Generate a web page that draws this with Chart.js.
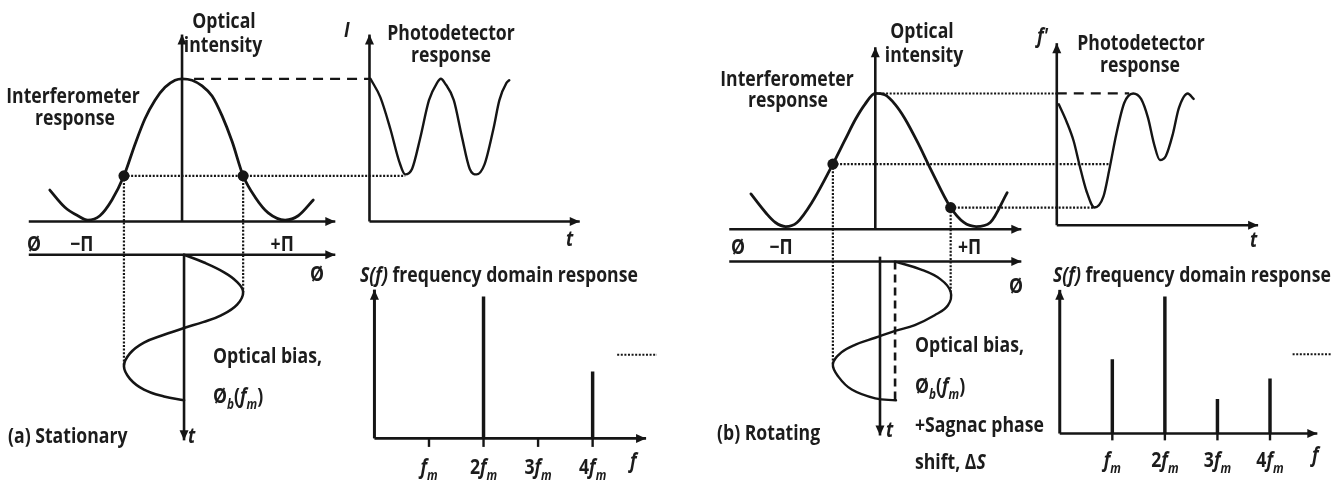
<!DOCTYPE html>
<html>
<head>
<meta charset="utf-8">
<title>Fibre-optic gyroscope: stationary vs rotating response</title>
<script src="https://cdn.jsdelivr.net/npm/chart.js@4.4.1/dist/chart.umd.min.js"></script>
<style>
  html, body { margin: 0; padding: 0; background: #fff; }
  #wrap { width: 1337px; height: 483px; }
</style>
</head>
<body>
<div id="wrap"><canvas id="fog" width="1337" height="483"></canvas></div>
<script>
// ---- data: (a) stationary ----
// interferometer response: phase (units of pi) vs normalised optical intensity
const interfPhaseA = [-1.32, -1.17, -1.04, -0.94, -0.82, -0.70, -0.58, -0.47, -0.37, -0.27, -0.17, -0.07, 0, 0.10, 0.20, 0.30, 0.40, 0.50, 0.61, 0.73, 0.86, 1.03, 1.16, 1.31];
const interfIntensityA = [0.22, 0.10, 0.04, 0.01, 0.04, 0.15, 0.32, 0.54, 0.72, 0.85, 0.94, 0.99, 1.00, 0.99, 0.95, 0.88, 0.74, 0.56, 0.32, 0.17, 0.06, 0.01, 0.04, 0.15];
// operating points set by the bias modulation
const biasPhaseA = [-0.58, 0.61];
const biasLevelA = [0.32, 0.32];
// photodetector output over time
const photoTimeA = [0.1, 1.1, 2.1, 3.0, 3.6, 4.3, 5.1, 6.0, 6.8, 7.2, 7.6, 8.5, 9.3, 10.1, 10.8, 11.6, 12.5, 13.1, 13.8, 14.1];
const photoIntensityA = [1.00, 0.87, 0.65, 0.42, 0.33, 0.37, 0.58, 0.85, 0.97, 1.00, 0.97, 0.85, 0.60, 0.37, 0.33, 0.40, 0.65, 0.85, 0.97, 0.99];
// phase modulation (optical bias) over time
const modPhaseA = [0.02, 0.22, 0.42, 0.54, 0.61, 0.55, 0.39, 0.21, 0.02, -0.18, -0.38, -0.52, -0.58, -0.52, -0.38, -0.18, 0.02];
const modTimeA = [0, 0.8, 1.8, 2.7, 3.8, 5.1, 6.2, 6.9, 7.5, 8.2, 9.0, 10.1, 11.4, 12.7, 13.8, 14.5, 14.9];
// spectrum
const harmonics = [1, 2, 3, 4];
const specAmpA = [0, 1.00, 0, 0.47];

// ---- data: (b) rotating ----
const interfPhaseB = [-1.32, -1.16, -1.06, -0.95, -0.83, -0.67, -0.45, -0.32, -0.21, -0.11, 0, 0.10, 0.21, 0.31, 0.45, 0.59, 0.80, 0.94, 1.07, 1.22, 1.40];
const interfIntensityB = [0.26, 0.12, 0.05, 0.02, 0.05, 0.20, 0.48, 0.66, 0.81, 0.92, 1.00, 0.99, 0.92, 0.82, 0.64, 0.44, 0.16, 0.05, 0.02, 0.05, 0.27];
const biasPhaseB = [-0.45, 0.80];
const biasLevelB = [0.48, 0.16];
const photoTimeB = [0.2, 1.0, 1.7, 2.3, 3.0, 3.8, 4.7, 5.3, 6.0, 6.8, 7.7, 8.5, 9.2, 9.8, 10.4, 11.0, 11.7, 12.3, 13.2, 13.8];
const photoIntensityB = [0.92, 0.79, 0.65, 0.47, 0.28, 0.16, 0.24, 0.44, 0.70, 0.93, 1.00, 0.96, 0.82, 0.63, 0.51, 0.54, 0.70, 0.89, 1.00, 0.96];
const modPhaseB = [0.21, 0.48, 0.69, 0.80, 0.77, 0.63, 0.42, 0.21, 0.0, -0.21, -0.36, -0.45, -0.39, -0.25, 0.0, 0.22];
const modTimeB = [0, 0.8, 1.8, 3.1, 4.5, 5.5, 6.5, 7.1, 7.8, 8.5, 9.3, 10.5, 11.8, 13.1, 14.0, 14.2];
const sagnacShiftB = 0.21;
const specAmpB = [0.54, 1.00, 0.25, 0.40];

// ---- drawing setup ----
const W = 1337, H = 483;
const INK = '#151515';
const TEXT = '#1c1c1c';
const FONT_FAMILY = '"Open Sans", "Noto Sans", sans-serif';
const CONDENSE = 0.84;

// hidden linear scale where value v0 sits at pixel p0 and v1 at pixel p1
const hidden = { display: false, bounds: 'data', offset: false, grid: { display: false, offset: false }, ticks: { display: false } };
function xFit(v0, p0, v1, p1) {
  const k = (v1 - v0) / (p1 - p0);
  return { ...hidden, type: 'linear', axis: 'x', position: 'bottom',
           min: v0 - p0 * k, max: v0 + (W - p0) * k };
}
function yFit(v0, p0, v1, p1) {
  const k = (v1 - v0) / (p1 - p0);
  const vTop = v0 - p0 * k, vBottom = v0 + (H - p0) * k;
  const base = { ...hidden, type: 'linear', axis: 'y', position: 'left' };
  return vBottom < vTop ? { ...base, min: vBottom, max: vTop }
                        : { ...base, min: vTop, max: vBottom, reverse: true };
}

function curve(xs, ys, xArr, yArr, width, monotone) {
  return {
    type: 'line', xAxisID: xs, yAxisID: ys,
    data: xArr.map((x, i) => ({ x, y: yArr[i] })),
    borderColor: INK, borderWidth: width, pointRadius: 0,
    tension: 0.4, cubicInterpolationMode: monotone ? 'monotone' : 'default',
    fill: false, borderCapStyle: 'round', borderJoinStyle: 'round'
  };
}
function dots(xs, ys, xArr, yArr) {
  return {
    type: 'scatter', xAxisID: xs, yAxisID: ys,
    data: xArr.map((x, i) => ({ x, y: yArr[i] })),
    pointRadius: 5.5, pointBackgroundColor: INK, pointBorderWidth: 0, showLine: false
  };
}
function spectrum(xs, ys, amps) {
  return {
    type: 'bar', xAxisID: xs, yAxisID: ys, grouped: false,
    data: harmonics.map((h, i) => ({ x: h, y: amps[i] })),
    backgroundColor: INK, borderWidth: 0, barThickness: 2.8
  };
}

// axes, guide lines and arrows, each end given as [xScale, x, yScale, y]
const DOT = [2, 1.6];
const DASH = [10, 7];
const guides = [
  // (a) interferometer axes
  { from: ['aPh', -1.53, 'aI', 0], to: ['aPh', 1.53, 'aI', 0], width: 2.6, arrow: true },
  { from: ['aPh', 0, 'aI', 0], to: ['aPh', 0, 'aI', 1.31], width: 2.6, arrow: true },
  { from: ['aPh', -1.53, 'aTm', 0], to: ['aPh', 1.53, 'aTm', 0], width: 2.6, arrow: true },
  { from: ['aPh', 0.02, 'aTm', 0], to: ['aPh', 0.02, 'aTm', 19], width: 2.6, arrow: true },
  // (a) photodetector axes
  { from: ['aT', 0, 'aI', 0], to: ['aT', 0, 'aI', 1.31], width: 2.6, arrow: true },
  { from: ['aT', 0, 'aI', 0], to: ['aT', 21.2, 'aI', 0], width: 2.6, arrow: true },
  // (a) spectrum axes
  { from: ['aF', 0, 'aS', 0], to: ['aF', 0, 'aS', 1.05], width: 3, arrow: true },
  { from: ['aF', 0, 'aS', 0], to: ['aF', 4.98, 'aS', 0], width: 2.6, arrow: true },
  { from: ['aF', 4.45, 'aS', 0.59], to: ['aF', 5.18, 'aS', 0.59], width: 2, dash: DOT },
  // (a) projections
  { from: ['aPh', 0.12, 'aI', 1], to: ['aT', 0, 'aI', 1], width: 2.2, dash: DASH },
  { from: ['aPh', biasPhaseA[0], 'aI', biasLevelA[0]], to: ['aT', photoTimeA[4], 'aI', biasLevelA[0]], width: 2.2, dash: DOT },
  { from: ['aPh', biasPhaseA[0], 'aI', biasLevelA[0]], to: ['aPh', biasPhaseA[0], 'aTm', modTimeA[12]], width: 2.2, dash: DOT },
  { from: ['aPh', biasPhaseA[1], 'aI', biasLevelA[1]], to: ['aPh', biasPhaseA[1], 'aTm', modTimeA[4]], width: 2.2, dash: DOT },

  // (b) interferometer axes
  { from: ['bPh', -1.55, 'bI', 0], to: ['bPh', 1.55, 'bI', 0], width: 2.6, arrow: true },
  { from: ['bPh', 0, 'bI', 0], to: ['bPh', 0, 'bI', 1.34], width: 2.6, arrow: true },
  { from: ['bPh', -1.55, 'bTm', 0], to: ['bPh', 1.55, 'bTm', 0], width: 2.6, arrow: true },
  { from: ['bPh', 0.05, 'bTm', -0.5], to: ['bPh', 0.05, 'bTm', 17.8], width: 2.6, arrow: true },
  { from: ['bPh', sagnacShiftB, 'bTm', 0], to: ['bPh', sagnacShiftB, 'bTm', modTimeB[15]], width: 2.6, dash: [8, 5] },
  // (b) photodetector axes
  { from: ['bT', 0, 'bI', 0.03], to: ['bT', 0, 'bI', 1.37], width: 2.6, arrow: true },
  { from: ['bT', 0, 'bI', 0.03], to: ['bT', 20.3, 'bI', 0.03], width: 2.6, arrow: true },
  // (b) spectrum axes
  { from: ['bF', 0, 'bS', 0], to: ['bF', 0, 'bS', 1.05], width: 3, arrow: true },
  { from: ['bF', 0, 'bS', 0], to: ['bF', 4.9, 'bS', 0], width: 2.6, arrow: true },
  { from: ['bF', 4.43, 'bS', 0.58], to: ['bF', 5.17, 'bS', 0.58], width: 2, dash: DOT },
  // (b) projections
  { from: ['bPh', 0, 'bI', 1], to: ['bT', 0, 'bI', 1], width: 2, dash: DOT },
  { from: ['bT', 0, 'bI', 1], to: ['bT', 7.3, 'bI', 1], width: 2.2, dash: DASH },
  { from: ['bPh', biasPhaseB[0], 'bI', biasLevelB[0]], to: ['bT', 5.3, 'bI', biasLevelB[0]], width: 2.2, dash: DOT },
  { from: ['bPh', biasPhaseB[1], 'bI', biasLevelB[1]], to: ['bT', photoTimeB[5], 'bI', biasLevelB[1]], width: 2.2, dash: DOT },
  { from: ['bPh', biasPhaseB[0], 'bI', biasLevelB[0]], to: ['bPh', biasPhaseB[0], 'bTm', modTimeB[11]], width: 2.2, dash: DOT },
  { from: ['bPh', biasPhaseB[1], 'bI', biasLevelB[1]], to: ['bPh', biasPhaseB[1], 'bTm', modTimeB[3]], width: 2.2, dash: DOT }
];

// harmonic tick marks below the frequency axes
harmonics.forEach(h => {
  guides.push({ from: ['aF', h, 'aS', 0], to: ['aF', h, 'aS', -0.06], width: 2.4 });
  guides.push({ from: ['bF', h, 'bS', 0], to: ['bF', h, 'bS', -0.05], width: 2.4 });
});

// text, as [string, style] runs: 'i' italic, 's' subscript
const harmonicLabel = h => h === 1 ? [['f', 'i'], ['m', 'is']] : [[String(h), ''], ['f', 'i'], ['m', 'is']];
const labels = [
  // (a)
  { parts: [['Optical', '']], x: 224, y: 28, align: 'center' },
  { parts: [['intensity', '']], x: 223, y: 52, align: 'center' },
  { parts: [['Interferometer', '']], x: 73, y: 103, align: 'center' },
  { parts: [['response', '']], x: 75, y: 125, align: 'center' },
  { parts: [['Photodetector', '']], x: 451, y: 40, align: 'center' },
  { parts: [['response', '']], x: 451, y: 62, align: 'center' },
  { parts: [['I', 'i']], x: 344, y: 37 },
  { parts: [['Ø', '']], x: 27, y: 251 },
  { parts: [['−Π', '']], at: ['aPh', -1], y: 251, align: 'center' },
  { parts: [['+Π', '']], at: ['aPh', 1], y: 251, align: 'center' },
  { parts: [['Ø', '']], x: 310, y: 281 },
  { parts: [['t', 'i']], x: 188, y: 443 },
  { parts: [['t', 'i']], x: 566, y: 246 },
  { parts: [['Optical bias,', '']], x: 213, y: 363 },
  { parts: [['Ø', ''], ['b', 'is'], ['(', ''], ['f', 'i'], ['m', 'is'], [')', '']], x: 213, y: 403 },
  { parts: [['(a) Stationary', '']], x: 8, y: 443 },
  { parts: [['S(f)', 'i'], [' frequency domain response', '']], x: 360, y: 282 },
  { parts: [['f', 'i']], x: 630, y: 468 },
  ...harmonics.map(h => ({ parts: harmonicLabel(h), at: ['aF', h], y: 474, align: 'center' })),
  // (b)
  { parts: [['Optical', '']], x: 922, y: 38, align: 'center' },
  { parts: [['intensity', '']], x: 924, y: 62, align: 'center' },
  { parts: [['Interferometer', '']], x: 787, y: 86, align: 'center' },
  { parts: [['response', '']], x: 788, y: 107, align: 'center' },
  { parts: [['Photodetector', '']], x: 1141, y: 50, align: 'center' },
  { parts: [['response', '']], x: 1140, y: 72, align: 'center' },
  { parts: [["f'", 'i']], x: 1037, y: 43 },
  { parts: [['Ø', '']], x: 731, y: 254 },
  { parts: [['−Π', '']], at: ['bPh', -1], y: 254, align: 'center' },
  { parts: [['+Π', '']], at: ['bPh', 1], y: 254, align: 'center' },
  { parts: [['Ø', '']], x: 1009, y: 293 },
  { parts: [['t', 'i']], x: 886, y: 437 },
  { parts: [['t', 'i']], x: 1250, y: 247 },
  { parts: [['Optical bias,', '']], x: 915, y: 352 },
  { parts: [['Ø', ''], ['b', 'is'], ['(', ''], ['f', 'i'], ['m', 'is'], [')', '']], x: 915, y: 393 },
  { parts: [['+Sagnac phase', '']], x: 915, y: 432 },
  { parts: [['shift, Δ', ''], ['S', 'i']], x: 915, y: 469 },
  { parts: [['(b) Rotating', '']], x: 717, y: 440 },
  { parts: [['S(f)', 'i'], [' frequency domain response', '']], x: 1053, y: 282 },
  { parts: [['f', 'i']], x: 1312, y: 462 },
  ...harmonics.map(h => ({ parts: harmonicLabel(h), at: ['bF', h], y: 467, align: 'center' }))
];

function fontFor(style, size) {
  return (style.includes('i') ? 'italic ' : '') + '700 ' + size + 'px ' + FONT_FAMILY;
}

function drawRich(ctx, parts, x, y, align, size) {
  let total = 0;
  const runs = parts.map(([text, style]) => {
    const sub = style.includes('s');
    const font = fontFor(style, sub ? Math.round(size * 0.66) : size);
    ctx.font = font;
    const w = ctx.measureText(text).width;
    total += w;
    return { text, font, w, dy: sub ? size * 0.3 : 0 };
  });
  total *= CONDENSE;
  const start = align === 'center' ? x - total / 2 : align === 'right' ? x - total : x;
  ctx.save();
  ctx.translate(start, y);
  ctx.scale(CONDENSE, 1);
  ctx.fillStyle = TEXT;
  ctx.textAlign = 'left';
  ctx.textBaseline = 'alphabetic';
  let cx = 0;
  runs.forEach(r => {
    ctx.font = r.font;
    ctx.fillText(r.text, cx, r.dy);
    cx += r.w;
  });
  ctx.restore();
}

function arrowHead(ctx, a, b) {
  const dx = b[0] - a[0], dy = b[1] - a[1];
  const len = Math.hypot(dx, dy) || 1;
  const ux = dx / len, uy = dy / len;
  const L = 10, hw = 4.5;
  const bx = b[0] - ux * L, by = b[1] - uy * L;
  ctx.beginPath();
  ctx.moveTo(b[0], b[1]);
  ctx.lineTo(bx - uy * hw, by + ux * hw);
  ctx.lineTo(bx + uy * hw, by - ux * hw);
  ctx.closePath();
  ctx.fill();
}

const diagramPlugin = {
  id: 'diagram',
  beforeDatasetsDraw(chart) {
    const ctx = chart.ctx, s = chart.scales;
    const px = p => [s[p[0]].getPixelForValue(p[1]), s[p[2]].getPixelForValue(p[3])];
    guides.forEach(g => {
      const a = px(g.from), b = px(g.to);
      ctx.save();
      ctx.strokeStyle = INK;
      ctx.fillStyle = INK;
      ctx.lineWidth = g.width || 2;
      ctx.setLineDash(g.dash || []);
      ctx.beginPath();
      ctx.moveTo(a[0], a[1]);
      ctx.lineTo(b[0], b[1]);
      ctx.stroke();
      ctx.setLineDash([]);
      if (g.arrow) arrowHead(ctx, a, b);
      ctx.restore();
    });
  },
  afterDraw(chart) {
    const ctx = chart.ctx, s = chart.scales;
    labels.forEach(l => {
      const x = l.at ? s[l.at[0]].getPixelForValue(l.at[1]) : l.x;
      drawRich(ctx, l.parts, x, l.y, l.align || 'left', l.size || 21);
    });
  }
};

new Chart(document.getElementById('fog'), {
  type: 'scatter',
  data: {
    datasets: [
      curve('aPh', 'aI', interfPhaseA, interfIntensityA, 2.8, true),
      dots('aPh', 'aI', biasPhaseA, biasLevelA),
      curve('aT', 'aI', photoTimeA, photoIntensityA, 2.4, true),
      curve('aPh', 'aTm', modPhaseA, modTimeA, 2.6, false),
      spectrum('aF', 'aS', specAmpA),
      curve('bPh', 'bI', interfPhaseB, interfIntensityB, 2.8, true),
      dots('bPh', 'bI', biasPhaseB, biasLevelB),
      curve('bT', 'bI', photoTimeB, photoIntensityB, 2.4, true),
      curve('bPh', 'bTm', modPhaseB, modTimeB, 2.4, false),
      spectrum('bF', 'bS', specAmpB)
    ]
  },
  options: {
    responsive: false,
    animation: false,
    events: [],
    layout: { padding: 0 },
    plugins: { legend: { display: false }, tooltip: { enabled: false }, title: { display: false } },
    scales: {
      aPh: xFit(0, 178, 1, 279),
      aI: yFit(0, 221, 1, 75),
      aT: xFit(0, 367, 10, 467),
      aTm: yFit(0, 255, 10, 355),
      aF: xFit(0, 372, 1, 427),
      aS: yFit(0, 443, 1, 298),
      bPh: xFit(0, 877, 1, 972),
      bI: yFit(0, 229, 1, 90),
      bT: xFit(0, 1060, 10, 1160),
      bTm: yFit(0, 262, 10, 362),
      bF: xFit(0, 1063, 1, 1116),
      bS: yFit(0, 438, 1, 298)
    }
  },
  plugins: [diagramPlugin]
});
</script>
</body>
</html>
